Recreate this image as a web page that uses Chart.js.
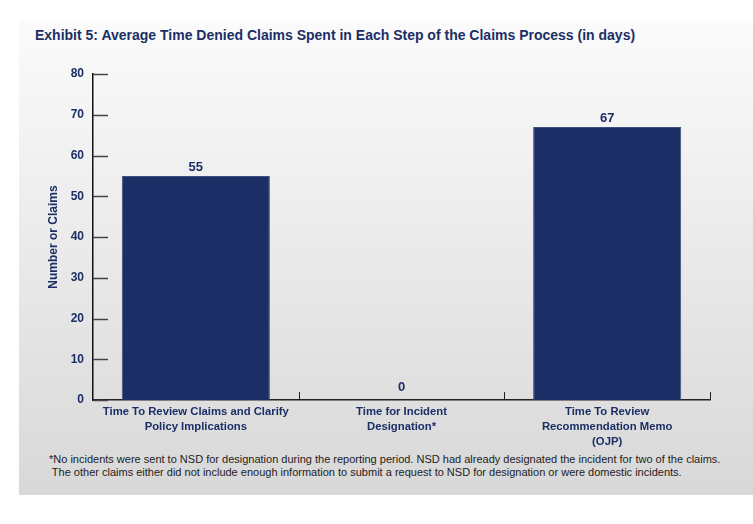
<!DOCTYPE html>
<html lang="en">
<head>
    <meta charset="UTF-8">
    <title>Exhibit 5</title>
    <script src="https://cdn.jsdelivr.net/npm/chart.js"></script>
    <style>
        body {
            margin: 0;
            width: 753px;
            height: 524px;
            background: #fff;
            position: relative;
            font-family: "Liberation Sans", Arial, sans-serif;
            overflow: hidden;
        }
        .panel {
            position: absolute;
            left: 19px;
            top: 20px;
            width: 734px;
            height: 475px;
            background: linear-gradient(#fbfbfb, #d8d8d8);
        }
        .title {
            position: absolute;
            left: 35px;
            top: 27px;
            font-size: 14px;
            font-weight: bold;
            color: #1b2f66;
            white-space: nowrap;
        }
        .note {
            position: absolute;
            left: 49px;
            top: 453px;
            font-size: 11px;
            line-height: 13px;
            color: #222;
            white-space: pre;
        }
        canvas {
            position: absolute;
            left: 0;
            top: 0;
        }
    </style>
</head>
<body>
    <div class="panel"></div>
    <div class="title">Exhibit 5: Average Time Denied Claims Spent in Each Step of the Claims Process (in days)</div>
    <div class="note">*No incidents were sent to NSD for designation during the reporting period. NSD had already designated the incident for two of the claims.
 The other claims either did not include enough information to submit a request to NSD for designation or were domestic incidents.</div>
    <canvas id="chart" width="753" height="524"></canvas>
    <script>
        const categories = [
            ['Time To Review Claims and Clarify', 'Policy Implications'],
            ['Time for Incident', 'Designation*'],
            ['Time To Review', 'Recommendation Memo', '(OJP)']
        ];
        const days = [55, 0, 67];
        const yTicks = [0, 10, 20, 30, 40, 50, 60, 70, 80];

        const navy = '#1b2f66';
        const font = '"Liberation Sans", Arial, sans-serif';

        // valores encima de cada barra
        const barLabels = {
            id: 'barLabels',
            afterDatasetsDraw(chart) {
                const ctx = chart.ctx;
                const meta = chart.getDatasetMeta(0);
                ctx.save();
                ctx.font = 'bold 13px ' + font;
                ctx.fillStyle = navy;
                ctx.textAlign = 'center';
                ctx.textBaseline = 'alphabetic';
                meta.data.forEach((bar, i) => {
                    const gap = days[i] === 0 ? 9 : 5;
                    ctx.fillText(days[i], bar.x, bar.y - gap);
                });
                ctx.restore();
            }
        };

        // marcas de graduacion hacia dentro
        const innerTicks = {
            id: 'innerTicks',
            afterDraw(chart) {
                const ctx = chart.ctx;
                const area = chart.chartArea;
                const y = chart.scales.y;
                const x = chart.scales.x;
                ctx.save();
                ctx.lineWidth = 1.5;
                ctx.strokeStyle = '#444';
                y.ticks.forEach(t => {
                    const py = Math.round(y.getPixelForValue(t.value)) + 0.5;
                    ctx.beginPath();
                    ctx.moveTo(area.left, py);
                    ctx.lineTo(area.left + 15, py);
                    ctx.stroke();
                });
                ctx.lineWidth = 1;
                ctx.strokeStyle = '#222';
                for (let i = 1; i <= categories.length; i++) {
                    const px = Math.round(x.getPixelForValue(i - 0.5)) + 0.5;
                    ctx.beginPath();
                    ctx.moveTo(px, area.bottom);
                    ctx.lineTo(px, area.bottom - 8);
                    ctx.stroke();
                }
                ctx.restore();
            }
        };

        new Chart(document.getElementById('chart'), {
            type: 'bar',
            data: {
                labels: categories,
                datasets: [{
                    data: days,
                    backgroundColor: navy,
                    borderColor: '#3d5080',
                    borderWidth: 1,
                    categoryPercentage: 1,
                    barPercentage: 0.72
                }]
            },
            options: {
                responsive: false,
                animation: false,
                devicePixelRatio: 1,
                layout: {
                    padding: { left: 46, top: 74, right: 43, bottom: 64 }
                },
                plugins: {
                    legend: { display: false },
                    tooltip: { enabled: false }
                },
                scales: {
                    x: {
                        afterFit(scale) { scale.height = 60; },
                        grid: { display: false, drawTicks: false },
                        border: { display: true, color: '#222', width: 1.5 },
                        ticks: {
                            color: navy,
                            padding: 4,
                            maxRotation: 0,
                            autoSkip: false,
                            font: { family: font, size: 11.3, weight: 'bold', lineHeight: 1.35 }
                        }
                    },
                    y: {
                        min: 0,
                        max: 80,
                        afterFit(scale) { scale.width = 93 - 46; },
                        afterBuildTicks(scale) {
                            scale.ticks = yTicks.map(v => ({ value: v }));
                        },
                        grid: { display: false, drawTicks: false },
                        border: { display: true, color: '#111', width: 1.5 },
                        title: {
                            display: true,
                            text: 'Number or Claims',
                            color: navy,
                            padding: 0,
                            font: { family: font, size: 12, weight: 'bold' }
                        },
                        ticks: {
                            color: navy,
                            padding: 9,
                            font: { family: font, size: 12, weight: 'bold' }
                        }
                    }
                }
            },
            plugins: [barLabels, innerTicks]
        });
    </script>
</body>
</html>
